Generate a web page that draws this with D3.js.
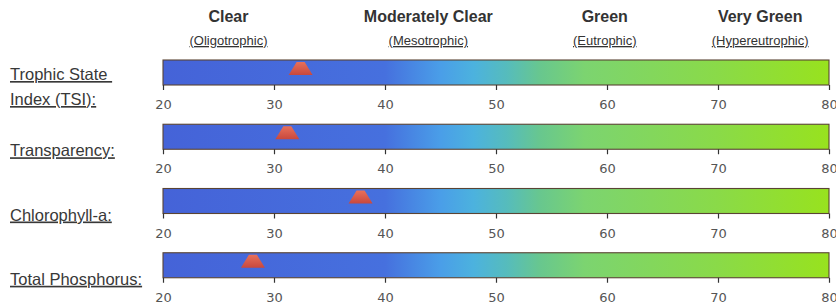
<!DOCTYPE html>
<html><head><meta charset="utf-8">
<script src="https://cdn.jsdelivr.net/npm/d3@7"></script>
<style>body{margin:0;background:#fff}svg{display:block}</style>
</head><body>
<svg id="c" width="836" height="305"></svg>
<script>
const indicators = ["Trophic State|Index (TSI):", "Transparency:", "Chlorophyll-a:", "Total Phosphorus:"];
const values = [32.4, 31.2, 37.8, 28.1];
const states = ["Clear", "Moderately Clear", "Green", "Very Green"];
const stateTerms = ["(Oligotrophic)", "(Mesotrophic)", "(Eutrophic)", "(Hypereutrophic)"];
const stateCenters = [25.9, 43.9, 59.8, 73.8];
const tickValues = [20, 30, 40, 50, 60, 70, 80];
const gradStops = [[20,"#4563d8"],[40,"#4670de"],[45,"#4a9ee8"],[48,"#4cb2de"],[51,"#56bcbc"],[54,"#68c78e"],[58,"#7cd470"],[70,"#8ada48"],[80,"#98e21e"]];

const svg = d3.select("#c");
const x = d3.scaleLinear().domain([20, 80]).range([163, 829]);
const y = d3.scaleBand().domain(indicators).range([60, 317]).paddingInner(0).paddingOuter(0);
const barH = 25;

const defs = svg.append("defs");
const g = defs.append("linearGradient").attr("id","grad").attr("gradientUnits","userSpaceOnUse")
  .attr("x1", x(20)).attr("x2", x(80)).attr("y1",0).attr("y2",0);
gradStops.forEach(s => g.append("stop").attr("offset", (s[0]-20)/60).attr("stop-color", s[1]));
const tg = defs.append("linearGradient").attr("id","tri").attr("x1",0).attr("x2",0).attr("y1",0).attr("y2",1);
tg.append("stop").attr("offset",0).attr("stop-color","#e8705a");
tg.append("stop").attr("offset",1).attr("stop-color","#c8483e");

// header
const hdr = svg.append("g").attr("fill","#333");
states.forEach((s,i)=>{
  hdr.append("text").attr("x", x(stateCenters[i])).attr("y", 22).attr("text-anchor","middle")
    .attr("font-family","Liberation Sans, Arial, sans-serif").attr("font-weight","bold").attr("font-size",16).text(s);
  hdr.append("text").attr("x", x(stateCenters[i])).attr("y", 45).attr("text-anchor","middle")
    .attr("font-family","Liberation Sans, Arial, sans-serif").attr("font-size",13)
    .attr("text-decoration","underline").text(stateTerms[i]);
});

indicators.forEach((name,i)=>{
  const top = y(name);
  const row = svg.append("g");
  row.append("rect").attr("x", x(20)).attr("y", top).attr("width", x(80)-x(20)).attr("height", barH)
    .attr("fill","url(#grad)").attr("stroke","#5a4434").attr("stroke-width",1.1);
  const ax = d3.axisBottom(x).tickValues(tickValues).tickSize(5).tickSizeOuter(0).tickPadding(10);
  const ag = row.append("g").attr("transform",`translate(0,${top+barH})`).call(ax);
  ag.select(".domain").remove();
  ag.selectAll(".tick line").attr("stroke","#333").attr("stroke-width",1.2);
  ag.selectAll(".tick text").attr("fill","#555").attr("font-family","DejaVu Sans, sans-serif").attr("font-size",13);
  // marker trapezoid
  const cx = x(values[i]);
  const pts = [[cx-4, top+2],[cx+4, top+2],[cx+12, top+15],[cx-12, top+15]];
  row.append("path").attr("d", d3.line()(pts)+"Z").attr("fill","url(#tri)");
  // label
  const parts = name.split("|");
  const lab = row.append("g").attr("fill","#383838").attr("font-family","Liberation Sans, Arial, sans-serif").attr("font-size",16.5);
  if (parts.length === 2) {
    lab.append("text").attr("x",10).attr("y", top+20).attr("text-decoration","underline").text(parts[0]+"\u00a0");
    lab.append("text").attr("x",10).attr("y", top+45).attr("text-decoration","underline").text(parts[1]);
  } else {
    lab.append("text").attr("x",10).attr("y", top+32).attr("text-decoration","underline").text(parts[0]);
  }
});
</script>
</body></html>
